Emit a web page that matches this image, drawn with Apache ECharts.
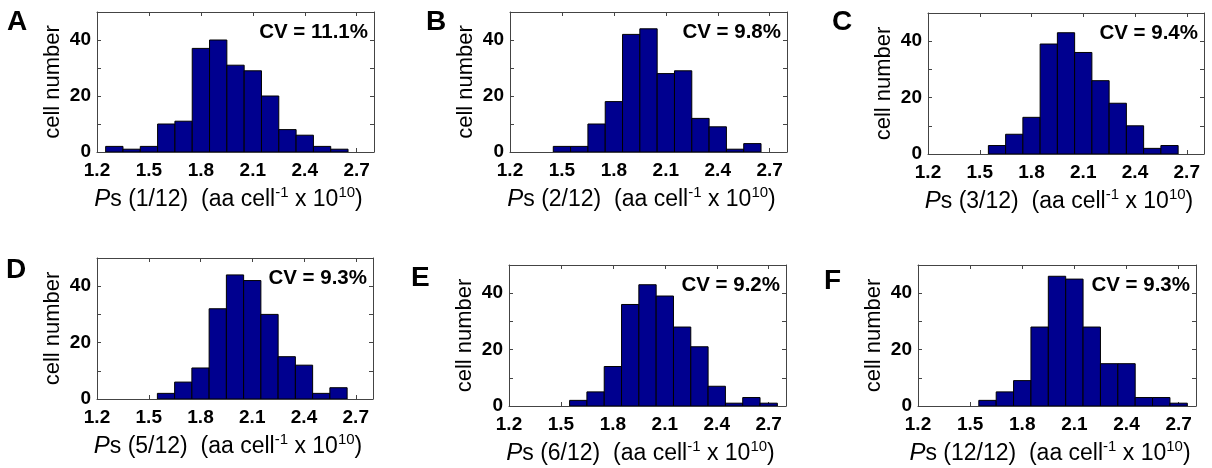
<!DOCTYPE html>
<html>
<head>
<meta charset="utf-8">
<script src="https://cdn.jsdelivr.net/npm/echarts@6/dist/echarts.min.js"></script>
<style>
html,body{margin:0;padding:0;background:#fff;}
#chart{width:1212px;height:468px;}
</style>
</head>
<body>
<div id="chart"></div>
<script>
// ---- data ----
const panelLetters = ['A', 'B', 'C', 'D', 'E', 'F'];
const fractions = ['1/12', '2/12', '3/12', '5/12', '6/12', '12/12'];
const cvLabels = ['CV = 11.1%', 'CV = 9.8%', 'CV = 9.4%', 'CV = 9.3%', 'CV = 9.2%', 'CV = 9.3%'];
const xTicks = [1.2, 1.5, 1.8, 2.1, 2.4, 2.7];
const yTicks = [0, 20, 40];
const binWidth = 0.1;

const binsA = [1.3, 1.4, 1.5, 1.6, 1.7, 1.8, 1.9, 2.0, 2.1, 2.2, 2.3, 2.4, 2.5, 2.6];
const countsA = [2, 1, 2, 10, 11, 37, 40, 31, 29, 20, 8, 6, 2, 1];
const binsB = [1.5, 1.6, 1.7, 1.8, 1.9, 2.0, 2.1, 2.2, 2.3, 2.4, 2.5, 2.6];
const countsB = [2, 2, 10, 18, 42, 44, 28, 29, 12, 9, 1, 3];
const binsC = [1.6, 1.7, 1.8, 1.9, 2.0, 2.1, 2.2, 2.3, 2.4, 2.5, 2.6];
const countsC = [3, 7, 13, 39, 43, 36, 26, 18, 10, 2, 3];
const binsD = [1.6, 1.7, 1.8, 1.9, 2.0, 2.1, 2.2, 2.3, 2.4, 2.5, 2.6];
const countsD = [2, 6, 11, 32, 44, 42, 30, 15, 12, 2, 4];
const binsE = [1.6, 1.7, 1.8, 1.9, 2.0, 2.1, 2.2, 2.3, 2.4, 2.5, 2.6, 2.7];
const countsE = [2, 5, 14, 36, 43, 39, 28, 21, 7, 1, 3, 1];
const binsF = [1.6, 1.7, 1.8, 1.9, 2.0, 2.1, 2.2, 2.3, 2.4, 2.5, 2.6, 2.7];
const countsF = [2, 5, 9, 28, 46, 45, 28, 15, 15, 3, 3, 1];

const allBins = [binsA, binsB, binsC, binsD, binsE, binsF];
const allCounts = [countsA, countsB, countsC, countsD, countsE, countsF];

// ---- layout ----
const FONT = '"Liberation Sans", Arial, Helvetica, sans-serif';
const grids = [
  {left: 97,  top: 12,  width: 277, height: 140},
  {left: 510, top: 12,  width: 277, height: 140},
  {left: 928, top: 13,  width: 276, height: 141},
  {left: 97,  top: 258, width: 276, height: 141},
  {left: 509, top: 265, width: 277, height: 141},
  {left: 918, top: 265, width: 278, height: 141}
];
const letterPos = [[7, 24], [426, 24], [832, 24], [6, 272], [411, 280], [824, 283]];

const AXIS_COLOR = '#444';
const BAR_FILL = '#00008F';

const option = {
  backgroundColor: '#fff',
  animation: false,
  grid: [], xAxis: [], yAxis: [], series: [], graphic: []
};

function isTick(v, arr) { return arr.some(t => Math.abs(t - v) < 1e-6); }

function renderItem(params, api) {
  const c = api.value(0), n = api.value(1);
  const p0 = api.coord([c - binWidth / 2, n]);
  const p1 = api.coord([c + binWidth / 2, 0]);
  return {
    type: 'rect',
    shape: {x: p0[0], y: p0[1], width: p1[0] - p0[0], height: p1[1] - p0[1]},
    style: {fill: BAR_FILL, stroke: '#000', lineWidth: 1}
  };
}

grids.forEach((g, i) => {
  option.grid.push(Object.assign({show: false, outerBoundsMode: 'none', containLabel: false}, g));
  const xBase = {
    type: 'value', gridIndex: i, min: 1.2, max: 2.8, interval: 0.3,
    splitLine: {show: false},
    axisLine: {show: true, onZero: false, lineStyle: {color: AXIS_COLOR, width: 1}},
    axisTick: {show: true, inside: true, length: 4, lineStyle: {color: AXIS_COLOR}}
  };
  option.xAxis.push(Object.assign({}, xBase, {
    position: 'bottom',
    axisLabel: {
      show: true, margin: 9, fontSize: 19, fontWeight: 'bold', color: '#000', fontFamily: FONT,
      showMaxLabel: false, hideOverlap: false,
      formatter: v => isTick(v, xTicks) ? (+v).toFixed(1) : ''
    },
    name: '{p|P}s (' + fractions[i] + ')  (aa cell{sup|-1} x 10{sup|10})',
    nameLocation: 'middle', nameGap: 33,
    nameTextStyle: {
      fontSize: 23, color: '#000', fontFamily: FONT, lineHeight: 29, padding: [0, 14, 0, 0],
      rich: {
        p: {fontSize: 24, fontStyle: 'italic', color: '#000', fontFamily: FONT, lineHeight: 29},
        sup: {fontSize: 15, color: '#000', fontFamily: FONT, verticalAlign: 'top', lineHeight: 15}
      }
    }
  }));
  option.xAxis.push(Object.assign({}, xBase, {position: 'top', axisLabel: {show: false}}));
  const yBase = {
    type: 'value', gridIndex: i, min: 0, max: 50, interval: 10,
    splitLine: {show: false},
    axisLine: {show: true, onZero: false, lineStyle: {color: AXIS_COLOR, width: 1}},
    axisTick: {show: true, inside: true, length: 4, lineStyle: {color: AXIS_COLOR}}
  };
  option.yAxis.push(Object.assign({}, yBase, {
    position: 'left',
    axisLabel: {
      show: true, margin: 6, fontSize: 19, fontWeight: 'bold', color: '#000', fontFamily: FONT,
      formatter: v => isTick(v, yTicks) ? String(v) : ''
    },
    name: 'cell number', nameLocation: 'middle', nameGap: 33,
    nameTextStyle: {fontSize: 22, color: '#000', fontFamily: FONT}
  }));
  option.yAxis.push(Object.assign({}, yBase, {position: 'right', axisLabel: {show: false}}));

  option.series.push({
    type: 'custom', xAxisIndex: 2 * i, yAxisIndex: 2 * i,
    renderItem: renderItem, clip: true,
    encode: {x: 0, y: 1},
    data: allBins[i].map((b, k) => [b, allCounts[i][k]])
  });

  option.graphic.push({
    type: 'text', left: letterPos[i][0], top: letterPos[i][1] - 16,
    style: {text: panelLetters[i], fontSize: 28, fontWeight: 'bold', fill: '#000', fontFamily: FONT}
  });
  option.graphic.push({
    type: 'text', x: g.left + g.width - 6, y: g.top + 20,
    style: {
      text: cvLabels[i], fontSize: 20.5, fontWeight: 'bold', fill: '#000', fontFamily: FONT,
      align: 'right', verticalAlign: 'middle'
    }
  });
});

const chart = echarts.init(document.getElementById('chart'), null, {renderer: 'canvas'});
chart.setOption(option);
</script>
</body>
</html>
